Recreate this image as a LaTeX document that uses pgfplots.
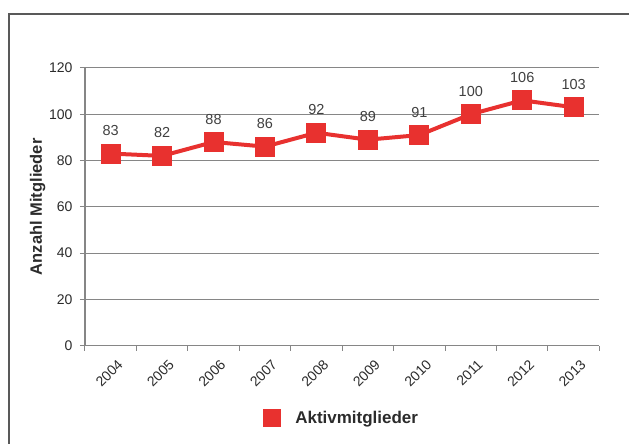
\documentclass[border=0pt]{standalone}
\usepackage{fontspec}
\setmainfont{Liberation Sans}
\usepackage{pgfplots}
\pgfplotsset{compat=1.18}
\definecolor{lred}{HTML}{E8312F}
\definecolor{axgray}{HTML}{868686}
\definecolor{frame}{HTML}{595959}
\definecolor{txt}{HTML}{2B2B2B}

\begin{document}
\begin{tikzpicture}
\begin{axis}[
    at={(85pt,98pt)}, anchor=south west,
    scale only axis,
    width=515pt, height=278pt,
    xmin=-0.5, xmax=9.5,
    ymin=0, ymax=120,
    ytick={0,20,...,120},
    xtick={0,...,9},
    xticklabels={2004,2005,2006,2007,2008,2009,2010,2011,2012,2013},
    minor xtick={-0.5,0.5,...,9.5},
    xtick style={draw=none},
    minor x tick style={draw=axgray, line width=1pt},
    ytick style={draw=axgray, line width=1pt},
    tick align=outside,
    major tick length=5pt, minor tick length=5pt,
    axis lines*=left,
    axis line style={draw=axgray, line width=1.6pt},
    ymajorgrids,
    major grid style={draw=axgray, line width=1pt},
    /pgf/number format/assume math mode=true,
    tick label style={font=\fontsize{14}{16}\selectfont, text=txt},
    yticklabel style={xshift=-4pt},
    xticklabel style={xshift=6pt, yshift=-3pt, rotate=45, anchor=north east},
    ylabel={Anzahl Mitglieder},
    ylabel style={at={(axis description cs:-0.092,0.5)}, anchor=center,
        font=\fontsize{16.5}{18}\selectfont\bfseries, text=txt},
    nodes near coords,
    every node near coord/.append style={font=\fontsize{14.5}{16}\selectfont,
        text=black!75, anchor=base, yshift=18pt, inner sep=0pt},
    legend style={draw=none, at={(axis description cs:0.499,-0.259)}, anchor=center,
        font=\fontsize{17}{19}\selectfont\bfseries, text=txt,
        /tikz/every odd column/.append style={column sep=12pt}},
    legend image code/.code={\fill[lred] (0pt,-7pt) rectangle (14pt,7pt);},
    clip=false,
]
\addplot[color=lred, line width=4pt, mark=square*, mark size=8pt,
    mark options={fill=lred, draw=none}]
    coordinates {(0,83) (1,82) (2,88) (3,86) (4,92) (5,89) (6,91) (7,100) (8,106) (9,103)};
\legend{Aktivmitglieder}
\end{axis}
\draw[frame, line width=1.2pt] (9pt,0pt) -- (9pt,430pt) -- (630pt,430pt);
\useasboundingbox (0pt,0pt) rectangle (630pt,444pt);
\end{tikzpicture}
\end{document}
